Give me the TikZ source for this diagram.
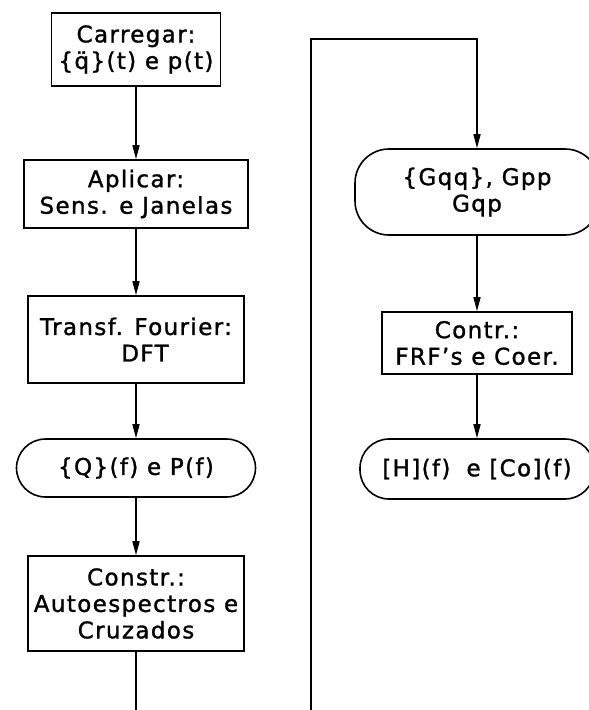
\documentclass[tikz,border=0pt]{standalone}
\usepackage{fontspec}
\setmainfont{DejaVu Sans}[LetterSpace=6,FakeBold=1.3]
\usetikzlibrary{arrows.meta}
\begin{document}
\begin{tikzpicture}[x=1pt,y=-1pt,line width=1.6pt,
  every node/.style={font=\fontsize{23}{26.5}\selectfont,align=center,inner sep=0pt},
  box/.style={draw,rectangle},
  term/.style={draw,rectangle,rounded corners=29pt},
  arr/.style={-{Triangle[length=14pt,width=7pt]}}]
\useasboundingbox (0,0) rectangle (589,710);
\clip (0,0) rectangle (589,710);
\node[box,minimum width=169pt,minimum height=73pt] (n1) at (136,49.5) {Carregar:\\\{q̈\}(t) e p(t)};
\node[box,minimum width=224pt,minimum height=68pt] (n2) at (136,194) {Aplicar:\\Sens. e Janelas};
\node[box,minimum width=216pt,minimum height=87pt] (n3) at (136,339.5) {Transf. Fourier:\\\hspace*{18pt}DFT};
\node[term,minimum width=239pt,minimum height=58pt] (n4) at (136,468) {\{Q\}(f) e P(f)};
\node[box,minimum width=216pt,minimum height=95pt] (n5) at (136,603.5) {Constr.:\\Autoespectros e\\Cruzados};
\node[term,rounded corners=34pt,minimum width=244pt,minimum height=86pt] (n6) at (477,192) {\{Gqq\}, Gpp\\Gqp};
\node[box,minimum width=190pt,minimum height=62pt] (n7) at (477,343) {Contr.:\\FRF's e Coer.};
\node[term,minimum width=234pt,minimum height=60pt] (n8) at (477,469) {[H](f)\hspace{16pt}e [Co](f)};
\coordinate (e1) at (136,715);
\coordinate (e2) at (311,715);
\coordinate (c1) at (311,39);
\draw[arr] (n1.south) -- (n2.north);
\draw[arr] (n2.south) -- (n3.north);
\draw[arr] (n3.south) -- (n4.north);
\draw[arr] (n4.south) -- (n5.north);
\draw (n5.south) -- (e1);
\draw[arr] (e2) -- (c1) -| (n6.north);
\draw[arr] (n6.south) -- (n7.north);
\draw[arr] (n7.south) -- (n8.north);
\end{tikzpicture}
\end{document}
